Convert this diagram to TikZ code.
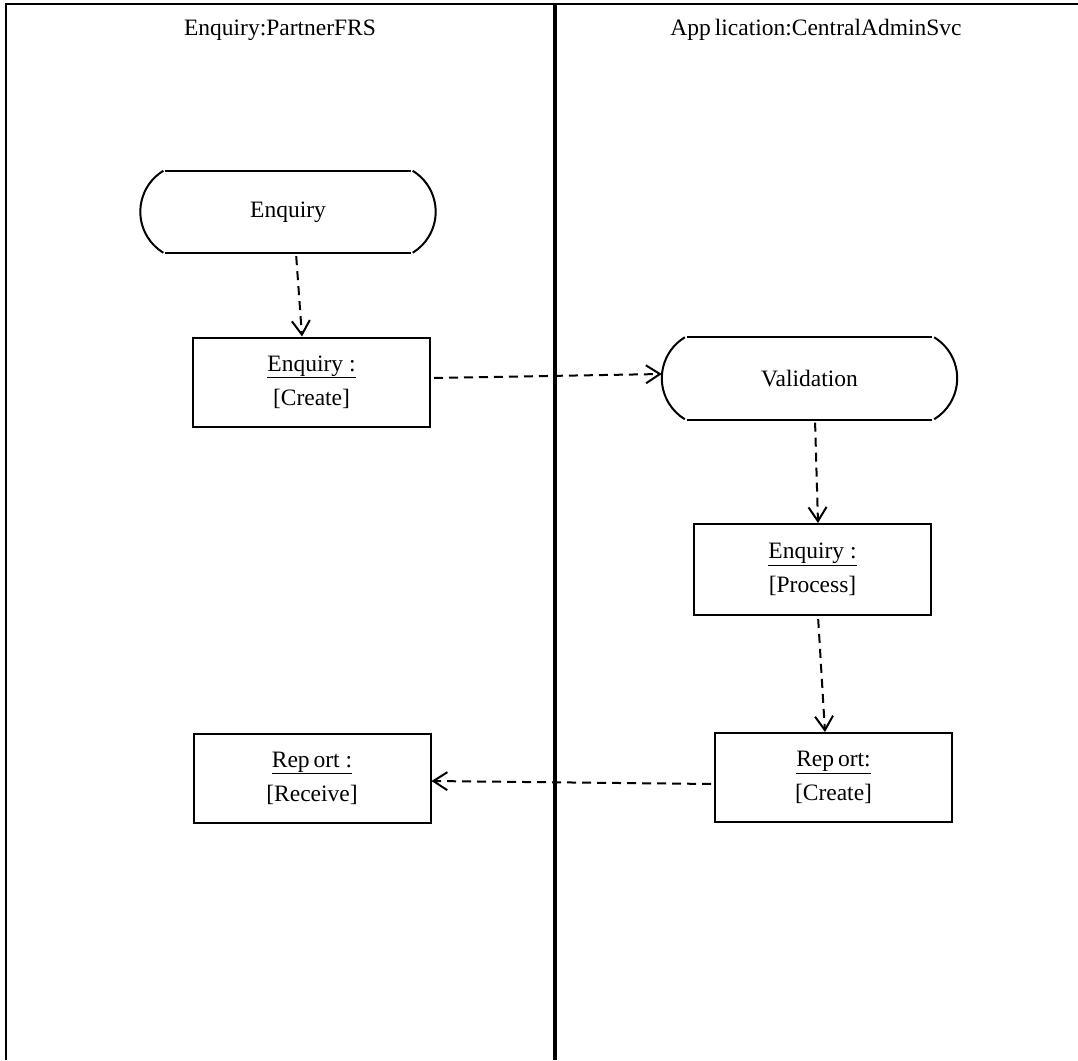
\documentclass[tikz,border=0pt]{standalone}
\usepackage{fontspec}
\setmainfont{Liberation Serif}
\usetikzlibrary{arrows.meta}
\newcommand\drawstatefrom[1]{%
  \draw[line width=2pt] ([xshift=25pt]#1.north west) -- ([xshift=-25pt]#1.north east);
  \draw[line width=2pt] ([xshift=25pt]#1.south west) -- ([xshift=-25pt]#1.south east);
  \draw[line width=2pt] ([xshift=23pt]#1.north west) arc[start angle=238.6, end angle=121.4, radius=48];
  \draw[line width=2pt] ([xshift=-23pt]#1.north east) arc[start angle=-58.6, end angle=58.6, radius=48];
}
\begin{document}
\begin{tikzpicture}[x=1pt,y=-1pt,
  lbl/.style={font=\fontsize{23.5}{34}\selectfont, align=center, inner sep=0pt},
  objbox/.style={draw, line width=2pt, minimum width=237pt, minimum height=89pt, lbl},
  statebox/.style={minimum width=295pt, minimum height=82pt, lbl},
  flow/.style={line width=2pt, dash pattern=on 9pt off 6pt, shorten <=3pt,
    -{Straight Barb[length=14pt,width=18pt,line width=2pt]}},
]
\useasboundingbox (0,0) rectangle (1078,1060);
\fill[white] (0,0) rectangle (1078,1060);
% lanes
\draw[line width=2.2pt] (6,1060) -- (6,4) -- (1078,4);
\draw[line width=4.5pt] (555,4) -- (555,1060);
\node[lbl] (h1) at (280,30) {Enquiry:PartnerFRS};
\node[lbl] (h2) at (816,30) {App\,lication:CentralAdminSvc};
% states
\node[statebox] (es) at (288,212) {Enquiry};
\drawstatefrom{es}
\node[statebox] (vs) at (809.5,378.5) {Validation};
\drawstatefrom{vs}
% objects
\node[objbox] (ec) at (311.5,382) {\underline{Enquiry :}\\{}[Create]};
\node[objbox, minimum height=91pt] (ep) at (812.5,569.5) {\underline{Enquiry :}\\{}[Process]};
\node[objbox] (rc) at (833.5,777.5) {\underline{Rep\,ort:}\\{}[Create]};
\node[objbox] (rr) at (312,778) {\underline{Rep\,ort :}\\{}[Receive]};
% flows
\draw[flow] ([xshift=8]es.south) -- ([xshift=-9.5]ec.north);
\draw[flow] ([yshift=4]ec.east) -- ([yshift=4.5]vs.west);
\draw[flow] ([xshift=5.5]vs.south) -- ([xshift=5.5]ep.north);
\draw[flow] ([xshift=5.5]ep.south) -- ([xshift=-8.5]rc.north);
\draw[flow] ([yshift=-6.5]rc.west) -- ([yshift=-3]rr.east);
\end{tikzpicture}
\end{document}
